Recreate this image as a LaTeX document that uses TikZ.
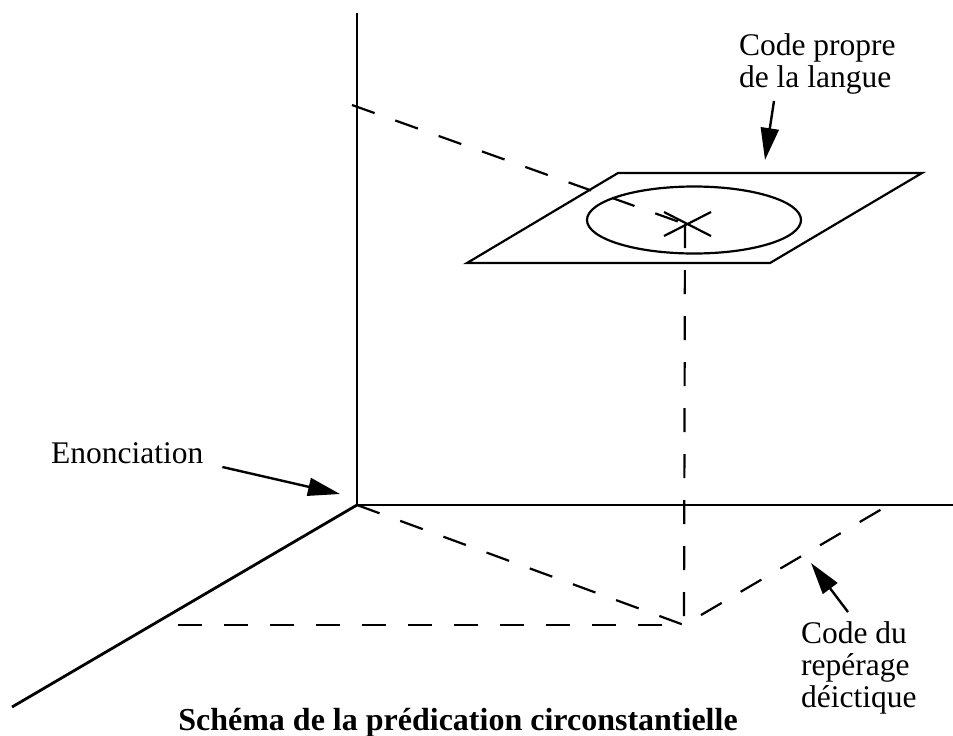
\documentclass[tikz,border=0pt]{standalone}
\usepackage{fontspec}
\setmainfont{Liberation Serif}
\usetikzlibrary{arrows.meta}
\tikzset{
	dashes/.style={dash pattern=on 12pt off 11pt, line width=1.1pt},
	pointer/.style={-{Triangle[length=16pt,width=9pt]}, line width=1.2pt},
	label/.style={inner sep=0pt, align=left, font=\fontsize{15.75}{16}\selectfont}
}
\begin{document}
\begin{tikzpicture}[x=0.5pt,y=-0.5pt,line width=1.1pt]
	\useasboundingbox (0,0) rectangle (953,735);
	\coordinate (O) at (357,505);
	\coordinate (P) at (684,625);
	\coordinate (X) at (685,224);
	% axes
	\draw (357,13) -- (O) -- (953,505);
	\draw[line width=1.4pt] (O) -- (12,707);
	% plan de la langue
	\draw (467,263) -- (618,173) -- (922,173) -- (770,263) -- cycle;
	\draw (694,220) ellipse (107 and 33.5);
	\draw (664,212) -- (711,236) (664,236) -- (711,212);
	% projections
	\draw[dashes] (352,105) -- (X);
	\draw[dashes] (X) -- (P);
	\draw[dashes] (178,625) -- (P);
	\draw[dashes] (O) -- (P) -- (887,506);
	% labels
	\node[label, anchor=base west] (langue) at (738,87) {Code propre\\de la langue};
	\node[label, anchor=base west] (enonc) at (50,463) {Enonciation};
	\node[label, anchor=base west] (deict) at (800,707) {Code du\\repérage\\déictique};
	\node[inner sep=0pt, anchor=base, font=\fontsize{16}{16}\selectfont\bfseries] (titre) at (458,730) {Schéma de la prédication circonstantielle};
	\coordinate (langue-tip) at (765,160);
	\coordinate (enonc-tip) at (340,494);
	\coordinate (deict-tip) at (811,563);
	\draw[pointer] ([xshift=18pt,yshift=-3pt]langue.south west) -- (langue-tip);
	\draw[pointer] ([xshift=9pt,yshift=-2pt]enonc.base east) -- (enonc-tip);
	\draw[pointer] ([xshift=24pt,yshift=4pt]deict.north west) -- (deict-tip);
\end{tikzpicture}
\end{document}
